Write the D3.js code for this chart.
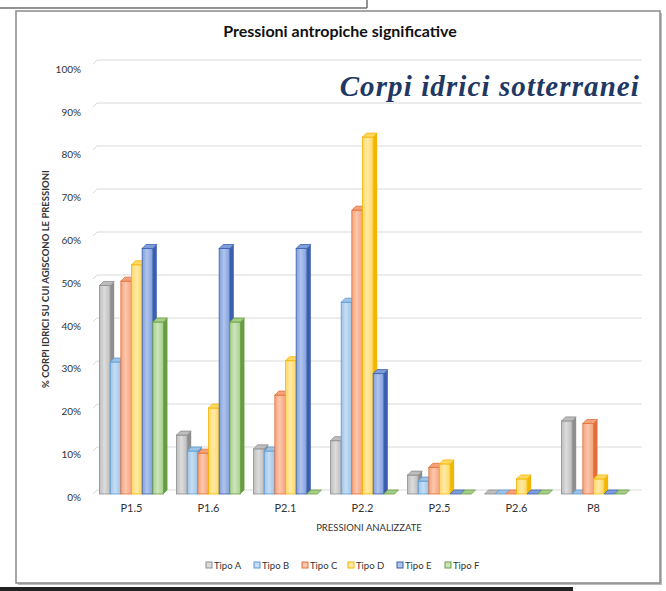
<!DOCTYPE html>
<html>
<head>
<meta charset="utf-8">
<script src="https://cdn.jsdelivr.net/npm/d3@7"></script>
<style>
  body { margin: 0; background: #fff; }
  svg { display: block; font-family: Lato, "Open Sans", sans-serif; }
</style>
</head>
<body>
<div id="chart"></div>
<script>
// data
const categories = ["P1.5", "P1.6", "P2.1", "P2.2", "P2.5", "P2.6", "P8"];
const types = ["Tipo A", "Tipo B", "Tipo C", "Tipo D", "Tipo E", "Tipo F"];
const tipoA = [0.485, 0.137, 0.105, 0.124, 0.044, 0, 0.17];
const tipoB = [0.307, 0.100, 0.100, 0.446, 0.030, 0, 0];
const tipoC = [0.495, 0.095, 0.230, 0.660, 0.062, 0, 0.164];
const tipoD = [0.533, 0.200, 0.310, 0.830, 0.070, 0.035, 0.035];
const tipoE = [0.571, 0.571, 0.571, 0.280, 0, 0, 0];
const tipoF = [0.400, 0.400, 0, 0, 0, 0, 0];
const yTicks = [0, 0.1, 0.2, 0.3, 0.4, 0.5, 0.6, 0.7, 0.8, 0.9, 1];

const series = [tipoA, tipoB, tipoC, tipoD, tipoE, tipoF];

// colours: light / mid / dark
const pal = {
  "Tipo A": ["#dcdcdc", "#bdbdbd", "#8e8e8e"],
  "Tipo B": ["#c6ddf4", "#9dc3e6", "#5b9bd5"],
  "Tipo C": ["#fcc7ad", "#f5a27c", "#e0703a"],
  "Tipo D": ["#ffe9a6", "#ffd862", "#f2b600"],
  "Tipo E": ["#b0c4ec", "#7f9fdc", "#3b5fae"],
  "Tipo F": ["#cde5bd", "#a5cf89", "#679c40"]
};

const W = 666, H = 591;
const depth = 4;

const svg = d3.select("#chart").append("svg")
  .attr("width", W).attr("height", H);

// page remnants around the frame
svg.append("line").attr("x1", 0).attr("x2", 367).attr("y1", 8).attr("y2", 8)
  .attr("stroke", "#6f6f6f").attr("stroke-width", 1.5);
svg.append("line").attr("x1", 367).attr("x2", 367).attr("y1", 0).attr("y2", 8)
  .attr("stroke", "#6f6f6f").attr("stroke-width", 1.5);
svg.append("rect").attr("x", 0).attr("y", 587).attr("width", 573).attr("height", 4)
  .attr("fill", "#222");

// chart frame with a light shadow
svg.append("rect").attr("x", 18).attr("y", 13).attr("width", 644).attr("height", 572)
  .attr("fill", "#bdbdbd");
svg.append("rect").attr("x", 16).attr("y", 11).attr("width", 644).attr("height", 572)
  .attr("fill", "#fff").attr("stroke", "#8a8a8a").attr("stroke-width", 1.5);

// title
svg.append("text").attr("x", 340).attr("y", 37).attr("text-anchor", "middle")
  .style("font-size", "16px").style("font-weight", "bold").attr("fill", "#111")
  .text("Pressioni antropiche significative");

// scales
const y = d3.scaleLinear().domain([0, 1]).range([494, 64]);
const yLab = d3.scaleLinear().domain([0, 1]).range([497, 69]);
const x0 = d3.scaleBand().domain(categories).range([93, 632])
  .paddingInner(0.17).paddingOuter(0.085);
const x1 = d3.scaleBand().domain(types).range([0, x0.bandwidth()]);

// gridlines on the back wall
const grid = svg.append("g");
yTicks.forEach(v => {
  const yy = y(v) - depth;
  grid.append("path")
    .attr("d", `M93,${yy + depth} L97,${yy} L642,${yy}`)
    .attr("fill", "none").attr("stroke", "#d9d9d9").attr("stroke-width", 1);
});

// y axis labels
svg.append("g")
  .attr("transform", "translate(81,0)")
  .call(d3.axisLeft(yLab).tickValues(yTicks).tickSize(0).tickPadding(0)
    .tickFormat(d3.format(".0%")))
  .call(g => g.select(".domain").remove())
  .selectAll("text")
  .style("font-family", "Lato, sans-serif").style("font-size", "10px").attr("fill", "#333");

// gradients
const defs = svg.append("defs");
types.forEach((t, i) => {
  const g = defs.append("linearGradient").attr("id", "g" + i)
    .attr("x1", "0%").attr("x2", "100%").attr("y1", "0%").attr("y2", "0%");
  g.append("stop").attr("offset", "0%").attr("stop-color", pal[t][1]);
  g.append("stop").attr("offset", "45%").attr("stop-color", pal[t][0]);
  g.append("stop").attr("offset", "100%").attr("stop-color", pal[t][1]);
});

// 3D bars, drawn left to right
const bars = svg.append("g");
categories.forEach((c, ci) => {
  types.forEach((t, ti) => {
    const v = series[ti][ci];
    const xl = x0(c) + x1(t), xr = xl + x1.bandwidth();
    const yt = y(v), yb = y(0);
    const g = bars.append("g");
    // side face
    g.append("path")
      .attr("d", `M${xr},${yt} L${xr + depth},${yt - depth} L${xr + depth},${yb - depth} L${xr},${yb} Z`)
      .attr("fill", pal[t][2]);
    // front face
    if (yb - yt > 0) {
      g.append("rect").attr("x", xl).attr("y", yt)
        .attr("width", xr - xl).attr("height", yb - yt)
        .attr("fill", `url(#g${ti})`)
        .attr("stroke", pal[t][2]).attr("stroke-width", 0.8);
    }
    // top face
    g.append("path")
      .attr("d", `M${xl},${yt} L${xr},${yt} L${xr + depth},${yt - depth} L${xl + depth},${yt - depth} Z`)
      .attr("fill", pal[t][1]).attr("stroke", pal[t][2]).attr("stroke-width", 0.8);
  });
});

// category labels
svg.append("g")
  .attr("transform", "translate(0,500)")
  .call(d3.axisBottom(x0).tickSize(0).tickPadding(4))
  .call(g => g.select(".domain").remove())
  .selectAll("text")
  .style("font-family", "Lato, sans-serif").style("font-size", "11px").attr("fill", "#333");

// axis titles
svg.append("text").attr("x", 369).attr("y", 531).attr("text-anchor", "middle")
  .style("font-size", "9.5px").attr("fill", "#333").text("PRESSIONI ANALIZZATE");
svg.append("text")
  .attr("transform", "translate(49,279) rotate(-90)").attr("text-anchor", "middle")
  .style("font-size", "9.5px").style("font-weight", "bold").attr("fill", "#333")
  .text("% CORPI IDRICI SU CUI AGISCONO LE PRESSIONI");

// overlay label
svg.append("text").attr("x", 640).attr("y", 96).attr("text-anchor", "end")
  .style("font-family", "'Liberation Serif', serif").style("font-size", "29px")
  .style("letter-spacing", "1.1px")
  .style("font-style", "italic").style("font-weight", "bold").attr("fill", "#1f3864")
  .text("Corpi idrici sotterranei");

// legend
const legX = [206, 254, 302, 348, 397, 445];
const leg = svg.append("g");
types.forEach((t, i) => {
  leg.append("rect").attr("x", legX[i]).attr("y", 562).attr("width", 6).attr("height", 6)
    .attr("fill", pal[t][0]).attr("stroke", pal[t][2]).attr("stroke-width", 1);
  leg.append("text").attr("x", legX[i] + 8).attr("y", 568.5)
    .style("font-size", "9.5px").attr("fill", "#333").text(t);
});
</script>
</body>
</html>
